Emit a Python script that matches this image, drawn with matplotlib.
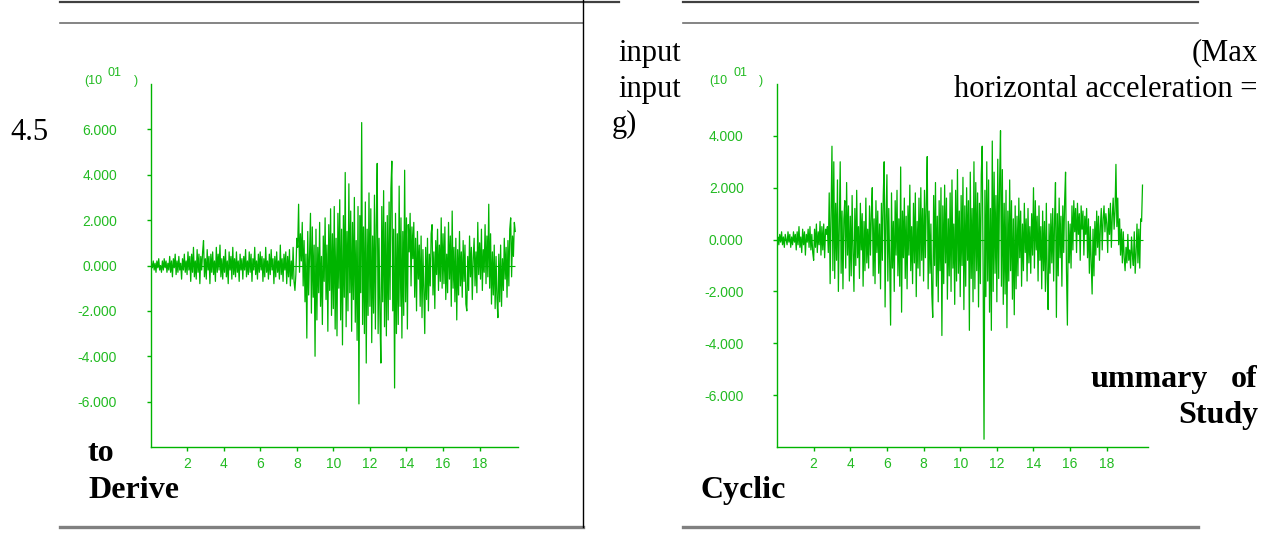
"""
Two acceleration time histories (input motions) cut out of a report page,
with the stray body-text fragments that sit around them.
"""

import matplotlib.pyplot as plt
import numpy as np
from matplotlib.lines import Line2D

# ── data (values in units of 10^1, sampled every 0.05 s) ─────────────────────
DT = 0.05

acc_left = [
    0.0, 0.1, -0.1, 0.2, -0.2, 0.1, -0.3, 0.2, -0.1, 0.3, -0.2, 0.0, -0.3, 0.2, -0.2, 0.3, -0.1, 0.2, -0.3, 0.1,
    -0.2, 0.4, -0.3, 0.2, -0.5, 0.3, -0.1, 0.5, -0.4, 0.2, -0.3, 0.4, -0.2, 0.1, -0.6, 0.3, -0.2, 0.5, -0.3, 0.2,
    -0.4, 0.6, -0.2, 0.4, -0.7, 0.5, -0.3, 0.8, -0.5, 0.2, -0.6, 0.7, -0.3, 0.5, -0.8, 0.4, -0.2, 0.6, 1.1, -0.5,
    0.3, -0.6, 0.7, -0.2, 0.4, -0.8, 0.5, -0.3, 0.6, -0.4, 0.2, -0.7, 0.8, -0.3, 0.5, -0.2, 0.9, -0.5, 0.3, -0.6,
    0.4, -0.3, 0.7, -0.5, 0.2, -0.8, 0.6, -0.2, 0.4, -0.6, 0.8, -0.4, 0.3, -0.5, 0.6, -0.3, 0.2, -0.7, 0.5, -0.2,
    0.3, -0.6, 0.4, -0.2, 0.7, -0.5, 0.2, -0.4, 0.6, -0.3, 0.5, -0.7, 0.3, -0.2, 0.8, -0.4, 0.2, -0.6, 0.5, -0.3,
    0.6, -0.2, 0.4, -0.7, 0.3, -0.5, 0.8, -0.3, 0.2, -0.6, 0.5, -0.4, 0.7, -0.2, 0.3, -0.8, 0.4, -0.5, 0.6, -0.3,
    0.2, -0.6, 0.9, -0.4, 0.3, -0.7, 0.5, -0.2, 0.6, -0.8, 0.4, -0.5, 0.7, -0.9, 0.2, -0.6, 0.8, -0.7, -1.1, -0.4,
    1.2, 0.8, 2.7, -0.3, 1.4, 0.2, 1.9, -0.9, 1.1, -1.6, 0.5, -3.2, 1.5, -1.3, 0.6, 2.3, -2.1, 1.7, -1.4, 0.9,
    -4.0, 1.6, -2.4, 0.8, -1.2, 1.9, -1.8, 0.4, -2.6, 1.3, -0.7, 2.1, -1.5, 0.9, -2.9, 1.8, -1.1, 2.5, -2.2, 1.4,
    -1.9, 2.6, -2.8, 1.2, -3.1, 2.3, -1.0, 2.9, -2.4, 1.6, -3.5, 2.2, -1.4, 4.1, -2.7, 1.5, -2.0, 3.6, -1.2, 2.4,
    -2.9, 1.9, -1.5, 3.0, -2.5, 1.1, -3.3, 2.6, -6.1, 2.2, -1.2, 6.3, -2.6, 1.7, -3.0, 2.8, -4.3, 1.6, -2.2, 3.2,
    -1.8, 2.5, -3.4, 1.3, -2.1, 3.1, -2.8, 1.8, 4.5, -3.0, 1.2, -2.3, -4.3, 2.6, -1.6, 3.3, -2.7, 1.9, -3.1, 2.2,
    -2.4, 2.8, -1.5, 3.4, 4.6, -2.0, 1.6, -5.4, 2.3, -3.0, 1.4, -2.6, 3.5, -1.8, 2.1, -3.2, 1.5, -2.2, 4.2, -1.6,
    2.1, -2.8, 1.8, 0.6, 2.3, -0.9, 1.7, 0.3, 1.9, -1.4, 1.2, -2.0, 1.5, -0.6, 0.9, -1.8, 1.3, -2.3, 0.7, -1.2,
    -3.0, 0.8, -1.5, 1.2, -2.0, 0.5, -0.9, 1.4, 1.8, -1.3, 0.6, -1.9, 1.1, -0.4, 1.6, -1.1, 0.9, -0.7, 2.1, -1.0,
    1.4, -0.8, 1.7, -1.5, 0.5, -1.2, 1.9, -0.6, 1.3, -1.8, 2.4, -1.0, 0.8, -1.6, 1.2, -2.4, 0.7, -1.3, 1.5, -0.9,
    0.6, -1.4, 1.1, -0.7, 0.9, -1.7, -2.0, 0.4, -1.1, 1.3, -0.5, 0.8, -1.5, 0.3, 1.2, -0.9, 0.6, -1.2, 1.9, -0.4,
    1.0, -0.6, 1.6, -1.1, 0.7, -0.3, 1.8, -0.8, 1.3, -0.5, 2.7, -1.0, 1.4, -1.7, 0.6, -1.3, 0.9, -1.9, 0.4, -1.5,
    -2.3, 0.5, -1.6, 0.9, -1.8, 0.3, -1.1, 1.2, -0.6, 0.8, -1.4, 1.1, -0.9, 1.6, 2.1, -0.5, 1.3, 0.4, 1.9, 1.5,
]

acc_right = [
    0.0, 0.1, -0.2, 0.2, -0.1, 0.3, -0.2, 0.1, -0.3, 0.2, 0.0, -0.2, 0.3, -0.1, 0.2, -0.3, 0.1, -0.2, 0.3, -0.1,
    0.2, -0.4, 0.3, -0.2, 0.5, -0.3, 0.1, -0.5, 0.4, -0.2, 0.3, -0.6, 0.2, -0.1, 0.4, -0.3, 0.5, -0.4, 0.2, -0.5,
    -0.8, 0.4, -0.3, 0.6, -0.5, 0.3, -0.2, 0.7, -0.6, 0.5, -0.4, 0.6, -0.7, 0.4, 0.2, 0.5, -0.5, 1.8, -1.7, 0.9,
    3.6, -1.2, 3.0, -1.5, 1.4, -0.8, 2.3, -2.0, 0.6, 3.0, -1.3, 1.1, -1.9, 0.8, 1.5, -1.1, 2.2, -0.6, 1.3, -1.6,
    0.9, -1.4, 1.7, -0.5, -2.0, 1.2, -1.0, 1.9, -0.7, 0.5, -1.5, 1.4, -0.4, 1.0, -1.8, 0.7, -1.2, 1.6, -0.9, 0.4,
    -1.1, 1.3, -0.6, 1.0, 2.0, -1.4, 0.8, -1.7, 1.5, -0.5, 1.1, -1.3, 0.6, -1.9, 1.4, -0.8, 1.7, 3.0, -2.6, 0.9,
    2.5, -1.6, 1.2, -0.9, -3.3, 1.8, -1.1, 0.7, -2.0, 1.5, -0.6, 1.9, -1.4, 0.8, -1.8, 2.8, -2.8, 1.1, -0.7, 1.6,
    -1.5, 0.9, -1.9, 1.3, -0.6, 2.1, -1.2, 0.5, -1.7, 1.4, -0.9, 1.8, -2.2, 0.7, -1.1, 1.6, -1.4, 2.0, -0.8, 1.2,
    -1.6, 1.9, -0.7, 1.4, 3.2, -1.9, 1.1, -1.3, 0.6, -2.1, -3.0, 1.7, -1.0, 2.2, -1.8, 0.9, -2.4, 1.5, -1.2, 2.0,
    -3.7, 1.3, -1.7, 2.1, -0.9, 1.6, -2.3, 0.8, -1.4, 1.8, -2.0, 2.3, -1.1, 0.6, -2.5, 1.9, -1.6, 2.7, -1.3, 1.1,
    -2.2, 1.7, -1.0, 2.4, -2.7, 1.3, -1.8, 2.0, -0.8, 1.5, -3.5, 2.6, -1.5, 1.2, -2.4, 3.0, -1.9, 2.2, -1.2, 1.8,
    -2.6, 1.4, -1.7, 2.5, 3.6, -1.1, -7.7, 1.9, -2.2, 3.0, -1.6, 2.3, -2.8, 1.2, -3.5, 3.8, -2.0, 2.6, -1.3, 1.7,
    -2.4, 3.1, -1.5, 2.2, 4.2, -1.8, 2.7, -2.5, 1.4, -2.1, 1.9, -3.4, 1.1, -1.6, 2.3, -1.2, 1.5, -2.3, 0.8, -2.9,
    1.3, -1.9, 0.9, -1.4, 1.6, -0.7, 1.1, -1.8, 0.6, -1.2, 1.4, -0.5, 0.8, -1.6, 1.2, -0.9, 0.5, -1.3, 1.0, -0.6,
    2.0, -1.1, 1.5, -0.4, 0.9, -1.6, 1.3, -0.8, 0.5, -1.9, 1.1, -1.2, 0.7, -2.0, 1.4, -1.5, -2.7, 0.6, -1.3, 1.0,
    -0.9, 1.2, -1.6, 0.8, 2.2, -3.0, 1.0, -1.4, 1.6, -0.7, 0.9, -1.8, 1.3, -0.5, 1.5, 2.6, -1.2, -3.3, 0.7, -0.9,
    0.6, -1.1, 1.3, -0.4, 1.5, 0.3, 1.2, -0.5, 1.4, 0.2, 1.0, -0.8, 1.3, 0.4, 1.1, -0.6, 0.9, 0.2, 1.2, -0.7,
    0.8, -1.3, 0.5, -0.9, -2.1, 0.4, -1.4, 0.7, -0.6, 1.1, -0.3, 0.9, -0.8, 0.5, 1.2, -0.4, 0.8, 1.3, 0.3, 1.0,
    0.6, -0.5, 1.2, 0.2, 1.4, -0.3, 0.9, 1.6, 0.4, 1.1, 2.9, 0.5, 1.6, -0.2, 0.8, -0.6, 0.4, -0.9, 0.3, -0.7,
    -1.2, -0.3, -0.9, 0.2, -0.8, -0.4, -1.1, 0.1, -0.6, -1.0, 0.3, -1.3, -0.5, 0.6, -0.9, 0.4, -1.1, 0.8, 0.7, 2.1,
]

x_ticks = [2, 4, 6, 8, 10, 12, 14, 16, 18]
y_ticks_left = [-6, -4, -2, 0, 2, 4, 6]
y_ticks_right = [-6, -4, -2, 0, 2, 4]

LINE_GREEN = "#00b400"
LABEL_GREEN = "#22bb22"

W, H = 1272, 554


def fx(px):
    return px / W


def fy(py):
    return 1 - py / H


def setup_axes(ax, t, acc, yticks, ylim, xmax):
    ax.plot(t, acc, color=LINE_GREEN, lw=0.9)
    ax.hlines(0, t[0], t[-1], color=LINE_GREEN, lw=0.8)
    ax.set_xlim(0, xmax)
    ax.set_ylim(*ylim)
    ax.set_xticks(x_ticks)
    ax.set_yticks(yticks)
    ax.set_yticklabels([f"{v:.3f}" for v in yticks])
    for side in ("top", "right"):
        ax.spines[side].set_visible(False)
    for side in ("left", "bottom"):
        ax.spines[side].set_color(LINE_GREEN)
        ax.spines[side].set_linewidth(1.0)
    ax.tick_params(axis="y", direction="out", length=3, width=1, pad=21,
                   colors=LINE_GREEN, labelcolor=LABEL_GREEN, labelsize=10)
    ax.tick_params(axis="x", direction="out", length=3, width=1, pad=4,
                   colors=LINE_GREEN, labelcolor=LABEL_GREEN, labelsize=10)
    for lab in ax.get_xticklabels() + ax.get_yticklabels():
        lab.set_fontfamily("Liberation Sans")
    ax.patch.set_alpha(0)


def main():
    fig = plt.figure(figsize=(W / 100, H / 100), dpi=100)

    t_left = np.arange(len(acc_left)) * DT
    t_right = np.arange(len(acc_right)) * DT

    ax1 = fig.add_axes([fx(150.5), fy(447), fx(518 - 150.5), (447 - 84) / H])
    setup_axes(ax1, t_left, acc_left, y_ticks_left, (-8, 8), 20.1)

    ax2 = fig.add_axes([fx(777), fy(447), fx(1148 - 777), (447 - 84) / H])
    setup_axes(ax2, t_right, acc_right, y_ticks_right, (-8, 6), 20.25)

    # page rules
    rules = [
        ((60, 619), (2, 2), "#404040", 1.6),
        ((60, 583), (23, 23), "#707070", 1.2),
        ((60, 583), (527, 527), "#808080", 2.4),
        ((683, 1198), (2, 2), "#404040", 1.6),
        ((683, 1198), (23, 23), "#707070", 1.2),
        ((683, 1198), (527, 527), "#808080", 2.4),
        ((583, 583), (0, 527), "#000000", 1.0),
    ]
    for xs, ys, col, lw in rules:
        fig.add_artist(Line2D([fx(v) for v in xs], [fy(v) for v in ys],
                              color=col, lw=lw, transform=fig.transFigure))

    # exponent labels above the y axes
    for x0 in (84, 709):
        fig.text(fx(x0), fy(81), "(10", color=LABEL_GREEN, fontsize=9,
                 family="Liberation Sans", va="center", ha="left")
        fig.text(fx(x0 + 24), fy(73), "01", color=LABEL_GREEN, fontsize=9,
                 family="Liberation Sans", va="center", ha="left")
        fig.text(fx(x0 + 50), fy(81), ")", color=LABEL_GREEN, fontsize=9,
                 family="Liberation Sans", va="center", ha="left")

    # stray text fragments from the surrounding page
    serif = dict(family="Liberation Serif", fontsize=22, color="black", va="baseline")
    bold = dict(family="Liberation Serif", fontsize=23, color="black",
                va="baseline", fontweight="bold")

    fig.text(fx(10), fy(140), "4.5", ha="left", **serif)
    fig.text(fx(681), fy(61), "input", ha="right", **serif)
    fig.text(fx(681), fy(97), "input", ha="right", **serif)
    fig.text(fx(612), fy(132), "g)", ha="left", **serif)
    fig.text(fx(1258), fy(60), "(Max", ha="right", **serif)
    fig.text(fx(1258), fy(97), "horizontal acceleration =", ha="right", **serif)

    fig.text(fx(88), fy(461), "to", ha="left", **bold)
    fig.text(fx(88), fy(498), "Derive", ha="left", **bold)
    fig.text(fx(700), fy(498), "Cyclic", ha="left", **bold)
    fig.text(fx(1090), fy(387), "ummary", ha="left", **bold)
    fig.text(fx(1258), fy(387), "of", ha="right", **bold)
    fig.text(fx(1258), fy(423), "Study", ha="right", **bold)

    fig.savefig("out.png", dpi=100)
    plt.close(fig)


if __name__ == "__main__":
    main()
